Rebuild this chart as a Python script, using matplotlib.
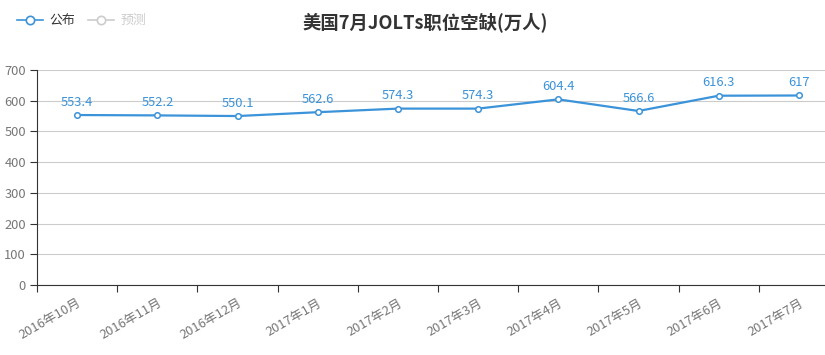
import matplotlib
matplotlib.use("Agg")
import matplotlib.pyplot as plt
from matplotlib.lines import Line2D
import numpy as np

plt.rcParams['font.family'] = ['Noto Sans CJK SC', 'DejaVu Sans']

months = ['2016年10月', '2016年11月', '2016年12月', '2017年1月', '2017年2月',
          '2017年3月', '2017年4月', '2017年5月', '2017年6月', '2017年7月']
published = [553.4, 552.2, 550.1, 562.6, 574.3, 574.3, 604.4, 566.6, 616.3, 617]
yticks = [0, 100, 200, 300, 400, 500, 600, 700]

blue = '#3b93d9'
W, H = 825, 355
fig = plt.figure(figsize=(W / 100, H / 100), dpi=100)
# plot area: left 37px, top 70px, bottom 285px, 802px wide (runs past the right edge)
ax = fig.add_axes([37 / W, 1 - 285 / H, 802 / W, 215 / H])

x = np.arange(len(months))
ax.plot(x, published, color=blue, lw=1.6, marker='o', ms=4, 
        mfc='white', mec=blue, mew=1.1, zorder=3, clip_on=False)
for xi, v in zip(x, published):
    ax.annotate(f'{v:g}', (xi, v), xytext=(0, 4.5), textcoords='offset points',
                ha='center', va='bottom', color=blue, fontsize=9.3)

ax.set_xlim(-0.5, len(months) - 0.5)
ax.set_ylim(0, 700)
ax.set_yticks(yticks)
ax.set_yticklabels([str(t) for t in yticks], color='#777777', fontsize=9.3)
ax.yaxis.grid(True, color='#cccccc', lw=0.8)
ax.set_axisbelow(True)

# boundary ticks, labels sit at category centres
ax.set_xticks(np.arange(len(months)) - 0.5)
ax.set_xticklabels([])
ax.set_xticks(x, minor=True)
ax.set_xticklabels(months, minor=True, rotation=30, ha='right',
                   rotation_mode='anchor', color='#777777', fontsize=9.3)
ax.tick_params(axis='x', which='major', length=5, color='#333333')
ax.tick_params(axis='x', which='minor', length=0, pad=8)
ax.tick_params(axis='y', length=5, color='#333333', pad=3)

for s in ['top', 'right']:
    ax.spines[s].set_visible(False)
ax.spines['left'].set_color('#333333')
ax.spines['bottom'].set_color('#333333')

fig.text(0.515, 1 - 22 / H, '美国7月JOLTs职位空缺(万人)', ha='center', va='center',
         fontsize=13.2, fontweight='bold', color='#333333')

handles = [Line2D([], [], color=blue, lw=1.2, marker='o', ms=6, mfc='white', mec=blue, mew=1.2),
           Line2D([], [], color='#cccccc', lw=1.2, marker='o', ms=6, mfc='white', mec='#cccccc', mew=1.2)]
leg = fig.legend(handles, ['公布', '预测'], loc='upper left', bbox_to_anchor=(0.01, 0.985),
                 ncol=2, frameon=False, fontsize=9.3, handlelength=2.0, handletextpad=0.5,
                 columnspacing=1.0, borderaxespad=0.3)
leg.get_texts()[0].set_color('#333333')
leg.get_texts()[1].set_color('#cccccc')

fig.savefig('out.png', dpi=100)
